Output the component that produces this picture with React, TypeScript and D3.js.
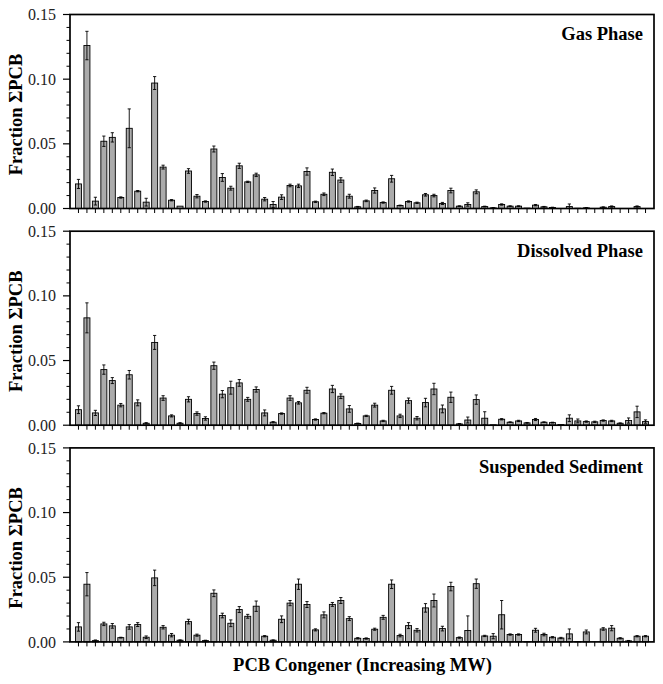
import React from "react";
import * as d3 from "d3";

const panelTitles = ["Gas Phase", "Dissolved Phase", "Suspended Sediment"];
const yTickValues = [0, 0.05, 0.1, 0.15];
const yMinorValues = [0.01, 0.02, 0.03, 0.04, 0.06, 0.07, 0.08, 0.09, 0.11, 0.12, 0.13, 0.14];

const gasValues = [0.019, 0.126, 0.0057, 0.052, 0.055, 0.0085, 0.062, 0.0134, 0.0049, 0.097, 0.032, 0.0064, 0.0018, 0.029, 0.0095, 0.0054, 0.046, 0.024, 0.0157, 0.033, 0.0206, 0.026, 0.0072, 0.0031, 0.0088, 0.0178, 0.0175, 0.0286, 0.0052, 0.011, 0.028, 0.022, 0.0095, 0.0013, 0.0059, 0.0139, 0.0046, 0.023, 0.0023, 0.0054, 0.0044, 0.0106, 0.01, 0.0039, 0.0139, 0.0018, 0.0031, 0.0129, 0.0015, 0.0005, 0.0031, 0.0018, 0.0018, 0.0003, 0.0026, 0.0013, 0.0008, 0, 0.0015, 0.0002, 0.0005, 0, 0.001, 0.0015, 0, 0, 0.0015, 0];
const gasErrors = [0.0035, 0.011, 0.003, 0.004, 0.0036, 0.0005, 0.015, 0.0005, 0.003, 0.005, 0.0015, 0.0005, 0, 0.0018, 0.0013, 0.0005, 0.0023, 0.003, 0.0015, 0.002, 0.0005, 0.0013, 0.0013, 0.0023, 0.0018, 0.001, 0.0013, 0.0028, 0.0005, 0.001, 0.0025, 0.0018, 0.0015, 0.0003, 0.0006, 0.002, 0.0005, 0.0026, 0.0003, 0.0005, 0.0005, 0.001, 0.001, 0.0008, 0.0018, 0.0003, 0.0013, 0.0015, 0.0003, 0.0002, 0.0005, 0.0003, 0.0003, 0, 0.0005, 0.0003, 0.0002, 0, 0.002, 0, 0.0002, 0, 0.0003, 0.0005, 0, 0, 0.0005, 0];

const dissolvedValues = [0.012, 0.083, 0.0095, 0.043, 0.0345, 0.0155, 0.039, 0.0173, 0.0015, 0.064, 0.021, 0.0072, 0.0015, 0.02, 0.009, 0.0052, 0.046, 0.024, 0.029, 0.0327, 0.02, 0.0276, 0.0095, 0.0023, 0.009, 0.021, 0.0173, 0.027, 0.0044, 0.0093, 0.028, 0.0224, 0.0126, 0.0013, 0.0072, 0.0155, 0.0033, 0.027, 0.0072, 0.019, 0.0054, 0.0175, 0.028, 0.0126, 0.0216, 0.001, 0.004, 0.0198, 0.0054, 0.0003, 0.0046, 0.0023, 0.0033, 0.0018, 0.0044, 0.0023, 0.002, 0.0005, 0.0054, 0.0033, 0.0028, 0.0026, 0.0036, 0.0033, 0.0015, 0.0036, 0.0103, 0.0028];
const dissolvedErrors = [0.003, 0.0116, 0.002, 0.0036, 0.0023, 0.0013, 0.0033, 0.0023, 0.0005, 0.0054, 0.0018, 0.0008, 0.0005, 0.002, 0.0013, 0.0013, 0.0028, 0.0028, 0.005, 0.0026, 0.0015, 0.002, 0.0023, 0.0005, 0.0005, 0.0018, 0.001, 0.0023, 0.0005, 0.0005, 0.0028, 0.0018, 0.0026, 0.0003, 0.0005, 0.0015, 0.0005, 0.003, 0.0013, 0.002, 0.0013, 0.0033, 0.0044, 0.003, 0.004, 0.0003, 0.0023, 0.0036, 0.005, 0, 0.0005, 0.0003, 0.0005, 0.0003, 0.0008, 0.0003, 0.0003, 0, 0.0026, 0.0015, 0.0005, 0.0005, 0.0005, 0.0005, 0.0003, 0.002, 0.0044, 0.0013];

const sedimentValues = [0.0116, 0.0446, 0.001, 0.0139, 0.0124, 0.0033, 0.0116, 0.0134, 0.0036, 0.0495, 0.0113, 0.0052, 0.0013, 0.0157, 0.0052, 0.001, 0.0376, 0.0204, 0.0144, 0.025, 0.0198, 0.0276, 0.0044, 0.0013, 0.0175, 0.03, 0.0446, 0.0289, 0.0093, 0.0209, 0.029, 0.032, 0.018, 0.0028, 0.0026, 0.0098, 0.019, 0.0446, 0.0049, 0.0126, 0.009, 0.0263, 0.032, 0.0103, 0.0428, 0.0033, 0.0088, 0.045, 0.0046, 0.0044, 0.021, 0.0057, 0.0057, 0.0003, 0.009, 0.0057, 0.0036, 0.003, 0.0062, 0.0003, 0.0077, 0, 0.01, 0.0106, 0.0028, 0.0008, 0.0044, 0.0044];
const sedimentErrors = [0.0033, 0.009, 0.0005, 0.0013, 0.0018, 0.0003, 0.0018, 0.0015, 0.001, 0.006, 0.0013, 0.0013, 0.0003, 0.0018, 0.0008, 0.0003, 0.0026, 0.0018, 0.0026, 0.0023, 0.0015, 0.004, 0.0005, 0.0003, 0.0026, 0.002, 0.004, 0.0023, 0.0008, 0.0023, 0.0015, 0.0023, 0.0015, 0.0005, 0.0005, 0.0008, 0.0015, 0.0033, 0.001, 0.0023, 0.0013, 0.0033, 0.005, 0.0018, 0.0033, 0.0005, 0.0113, 0.0036, 0.0005, 0.002, 0.011, 0.0005, 0.0005, 0, 0.0015, 0.001, 0.0005, 0.0005, 0.0038, 0, 0.0015, 0, 0.001, 0.002, 0.0005, 0.0003, 0.0005, 0.0005];

const panelValues = [gasValues, dissolvedValues, sedimentValues];
const panelErrors = [gasErrors, dissolvedErrors, sedimentErrors];

const W = 663;
const H = 684;
const LEFT = 70;
const RIGHT = 654;
const PANEL_TOP0 = 14.5;
const PANEL_STEP = 216.7;
const PANEL_H = 194;
const SERIF = "'Liberation Serif', 'Times New Roman', serif";

function Panel({ idx }: { idx: number }) {
  const values = panelValues[idx];
  const errors = panelErrors[idx];
  const top = PANEL_TOP0 + idx * PANEL_STEP;
  const bottom = top + PANEL_H;
  const n = values.length;
  const x = d3.scaleLinear().domain([0, n + 1]).range([LEFT, RIGHT]);
  const y = d3.scaleLinear().domain([0, 0.15]).range([bottom, top]);
  const barW = 6;
  const capW = 1.6;
  return (
    <g>
      {values.map((v, i) => {
        const cx = x(i + 1);
        const h = bottom - y(v);
        return (
          <rect
            key={"b" + i}
            x={cx - barW / 2}
            y={y(v)}
            width={barW}
            height={Math.max(h, 0)}
            fill="#ababab"
            stroke="#000"
            strokeWidth={0.9}
          />
        );
      })}
      {values.map((v, i) => {
        const e = errors[i];
        if (!e) return null;
        const cx = x(i + 1);
        const y1 = y(v + e);
        const y2 = y(Math.max(v - e, 0));
        return (
          <g key={"e" + i} stroke="#000" strokeWidth={0.9}>
            <line x1={cx} x2={cx} y1={y1} y2={y2} />
            <line x1={cx - capW} x2={cx + capW} y1={y1} y2={y1} />
            <line x1={cx - capW} x2={cx + capW} y1={y2} y2={y2} />
          </g>
        );
      })}
      {values.map((_, i) => (
        <line key={"xt" + i} x1={x(i + 1)} x2={x(i + 1)} y1={bottom} y2={bottom + 4.5} stroke="#000" strokeWidth={1} />
      ))}
      {yMinorValues.map((t) => (
        <line key={"ym" + t} x1={LEFT - 3.5} x2={LEFT} y1={y(t)} y2={y(t)} stroke="#000" strokeWidth={1} />
      ))}
      {yTickValues.map((t) => (
        <g key={"yt" + t}>
          <line x1={LEFT - 7} x2={LEFT} y1={y(t)} y2={y(t)} stroke="#000" strokeWidth={1.2} />
          <text
            x={LEFT - 14}
            y={y(t)}
            dy="0.35em"
            textAnchor="end"
            fontFamily={SERIF}
            fontSize={16}
            fill="#222"
          >
            {d3.format(".2f")(t)}
          </text>
        </g>
      ))}
      <rect x={LEFT} y={top} width={RIGHT - LEFT} height={PANEL_H} fill="none" stroke="#000" strokeWidth={1.7} />
      <text
        x={643}
        y={top + 25.5}
        textAnchor="end"
        fontFamily={SERIF}
        fontWeight="bold"
        fontSize={18.5}
        fill="#000"
      >
        {panelTitles[idx]}
      </text>
      <text
        transform={`translate(${16},${(top + bottom) / 2 + 3}) rotate(-90)`}
        textAnchor="middle"
        dy="0.35em"
        fontFamily={SERIF}
        fontWeight="bold"
        fontSize={18.5}
        fill="#000"
      >
        Fraction ΣPCB
      </text>
    </g>
  );
}

export default function App() {
  return (
    <svg
      width={W}
      height={H}
      style={{ position: "absolute", left: 0, top: 0, background: "#fff" }}
    >
      <rect x={0} y={0} width={W} height={H} fill="#fff" />
      {[0, 1, 2].map((i) => (
        <Panel key={i} idx={i} />
      ))}
      <text
        x={362.5}
        y={671}
        textAnchor="middle"
        fontFamily={SERIF}
        fontWeight="bold"
        fontSize={18.5}
        fill="#000"
      >
        PCB Congener (Increasing MW)
      </text>
    </svg>
  );
}
